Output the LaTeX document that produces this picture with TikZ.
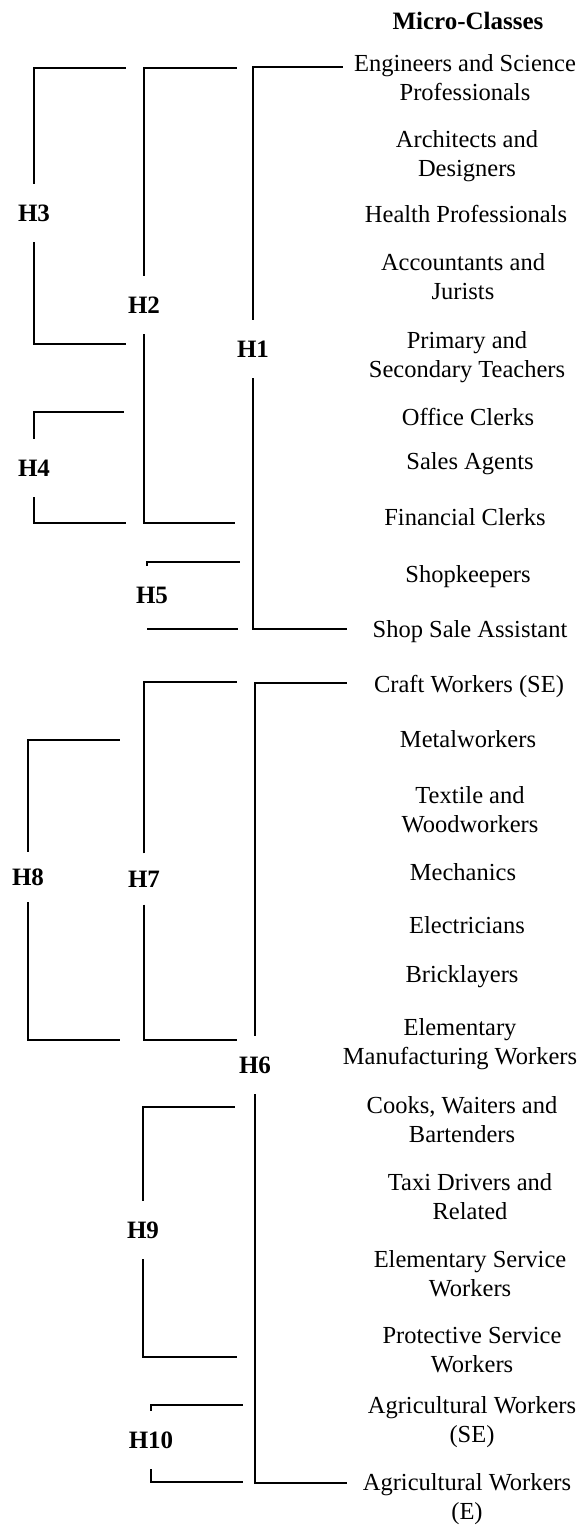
\documentclass[tikz,border=0pt]{standalone}
\usepackage{fontspec}
\setmainfont{Liberation Serif}
% two-line centred label whose baseline is that of its first line
\newcommand{\twoline}[2]{\begin{tabular}[t]{@{}c@{}}#1\\#2\end{tabular}}
\begin{document}
\begin{tikzpicture}[x=1pt,y=-1pt,
  arm/.style={line width=1.9pt, line join=miter},
  clab/.style={font=\fontsize{25}{30}\selectfont\bfseries, inner sep=0pt,
               text height=16.5pt, text depth=0pt, minimum height=58pt},
  leaf/.style={anchor=base, inner sep=0pt, font=\fontsize{24.5}{29}\selectfont},
  title/.style={anchor=base, inner sep=0pt, font=\fontsize{25}{30}\selectfont\bfseries}]
\useasboundingbox (0,0) rectangle (586,1528);

% column heading
\node[title] (head) at (468,30) {Micro-Classes};

% micro-classes
\node[leaf] (m1)  at (465,71)   {\twoline{Engineers and Science}{Professionals}};
\node[leaf] (m2)  at (467,147)  {\twoline{Architects and}{Designers}};
\node[leaf] (m3)  at (466,222)  {Health Professionals};
\node[leaf] (m4)  at (463,270)  {\twoline{Accountants and}{Jurists}};
\node[leaf] (m5)  at (467,348)  {\twoline{Primary and}{Secondary Teachers}};
\node[leaf] (m6)  at (468,425)  {Office Clerks};
\node[leaf] (m7)  at (470,469)  {Sales Agents};
\node[leaf] (m8)  at (465,525)  {Financial Clerks};
\node[leaf] (m9)  at (468,582)  {Shopkeepers};
\node[leaf] (m10) at (470,637)  {Shop Sale Assistant};
\node[leaf] (m11) at (469,692)  {Craft Workers (SE)};
\node[leaf] (m12) at (468,747)  {Metalworkers};
\node[leaf] (m13) at (470,803)  {\twoline{Textile and}{Woodworkers}};
\node[leaf] (m14) at (463,880)  {Mechanics};
\node[leaf] (m15) at (467,933)  {Electricians};
\node[leaf] (m16) at (462,982)  {Bricklayers};
\node[leaf] (m17) at (460,1035) {\twoline{Elementary}{Manufacturing Workers}};
\node[leaf] (m18) at (462,1113) {\twoline{Cooks, Waiters and}{Bartenders}};
\node[leaf] (m19) at (470,1190) {\twoline{Taxi Drivers and}{Related}};
\node[leaf] (m20) at (470,1267) {\twoline{Elementary Service}{Workers}};
\node[leaf] (m21) at (472,1343) {\twoline{Protective Service}{Workers}};
\node[leaf] (m22) at (472,1413) {\twoline{Agricultural Workers}{(SE)}};
\node[leaf] (m23) at (467,1490) {\twoline{Agricultural Workers}{(E)}};

% cluster labels
\node[clab] (H1)  at (253,349)  {H1};
\node[clab] (H2)  at (144,305)  {H2};
\node[clab] (H3)  at (34,213)   {H3};
\node[clab] (H4)  at (34,468)   {H4};
\node[clab] (H5)  at (152,595)  {H5};
\node[clab] (H6)  at (255,1065) {H6};
\node[clab, minimum height=51pt] (H7) at (144,879) {H7};
\node[clab, minimum height=50pt] (H8) at (28,877)  {H8};
\node[clab] (H9)  at (143,1230) {H9};
\node[clab] (H10) at (151,1440) {H10};

% ends of the bracket arms
\coordinate (a1t)  at (343,67);   \coordinate (a1b)  at (347,629);
\coordinate (a2t)  at (237,68);   \coordinate (a2b)  at (235,523);
\coordinate (a3t)  at (126,68);   \coordinate (a3b)  at (126,344);
\coordinate (a4t)  at (124,412);  \coordinate (a4b)  at (126,523);
\coordinate (a5t)  at (240,562);  \coordinate (a5l)  at (147,629);
\coordinate (a5b)  at (238,629);
\coordinate (a6t)  at (347,683);  \coordinate (a6b)  at (347,1483);
\coordinate (a7t)  at (237,682);  \coordinate (a7b)  at (237,1040);
\coordinate (a8t)  at (120,740);  \coordinate (a8b)  at (120,1040);
\coordinate (a9t)  at (235,1107); \coordinate (a9b)  at (237,1357);
\coordinate (a10t) at (243,1405); \coordinate (a10b) at (243,1482);

% brackets
\draw[arm] (H1.north) |- (a1t);  \draw[arm] (H1.south) |- (a1b);
\draw[arm] (H2.north) |- (a2t);  \draw[arm] (H2.south) |- (a2b);
\draw[arm] (H3.north) |- (a3t);  \draw[arm] (H3.south) |- (a3b);
\draw[arm] (H4.north) |- (a4t);  \draw[arm] (H4.south) |- (a4b);
\draw[arm] ([xshift=-5pt]H5.north) |- (a5t);  \draw[arm] (a5l) -- (a5b);
\draw[arm] (H6.north) |- (a6t);  \draw[arm] (H6.south) |- (a6b);
\draw[arm] (H7.north) |- (a7t);  \draw[arm] (H7.south) |- (a7b);
\draw[arm] (H8.north) |- (a8t);  \draw[arm] (H8.south) |- (a8b);
\draw[arm] (H9.north) |- (a9t);  \draw[arm] (H9.south) |- (a9b);
\draw[arm] (H10.north) |- (a10t); \draw[arm] (H10.south) |- (a10b);
\end{tikzpicture}
\end{document}
